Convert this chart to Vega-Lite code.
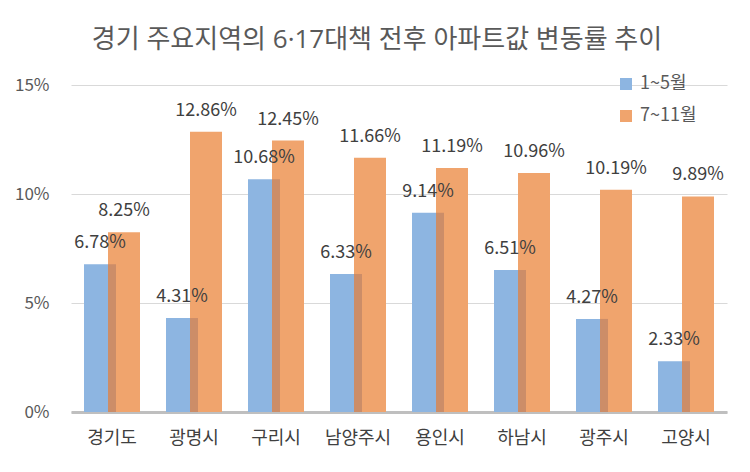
{
  "$schema": "https://vega.github.io/schema/vega-lite/v6.json",
  "width": 656,
  "height": 327,
  "autosize": {"type": "none"},
  "padding": {"left": 71, "top": 85, "right": 23, "bottom": 60},
  "background": "white",
  "config": {
    "font": "Noto Sans CJK KR",
    "view": {"stroke": null}
  },
  "title": {
    "text": "경기 주요지역의 6·17대책 전후 아파트값 변동률 추이",
    "font": "Open Sans, Noto Sans CJK KR",
    "fontSize": 26,
    "fontWeight": "normal",
    "color": "#595959",
    "anchor": "middle",
    "offset": 22,
    "dx": -22
  },
  "data": {
    "values": [
      {"region": "경기도", "period": "1~5월", "value": 0.0678},
      {"region": "경기도", "period": "7~11월", "value": 0.0825},
      {"region": "광명시", "period": "1~5월", "value": 0.0431},
      {"region": "광명시", "period": "7~11월", "value": 0.1286},
      {"region": "구리시", "period": "1~5월", "value": 0.1068},
      {"region": "구리시", "period": "7~11월", "value": 0.1245},
      {"region": "남양주시", "period": "1~5월", "value": 0.0633},
      {"region": "남양주시", "period": "7~11월", "value": 0.1166},
      {"region": "용인시", "period": "1~5월", "value": 0.0914},
      {"region": "용인시", "period": "7~11월", "value": 0.1119},
      {"region": "하남시", "period": "1~5월", "value": 0.0651},
      {"region": "하남시", "period": "7~11월", "value": 0.1096},
      {"region": "광주시", "period": "1~5월", "value": 0.0427},
      {"region": "광주시", "period": "7~11월", "value": 0.1019},
      {"region": "고양시", "period": "1~5월", "value": 0.0233},
      {"region": "고양시", "period": "7~11월", "value": 0.0989}
    ]
  },
  "encoding": {
    "x": {
      "field": "region",
      "type": "nominal",
      "sort": null,
      "scale": {"paddingInner": 0, "paddingOuter": 0},
      "axis": {
        "title": null,
        "labelAngle": 0,
        "labelFontSize": 18,
        "labelColor": "#404040",
        "labelPadding": 17,
        "ticks": false,
        "domainColor": "#BFBFBF",
        "domainWidth": 3
      }
    },
    "y": {
      "field": "value",
      "type": "quantitative",
      "scale": {"domain": [0, 0.15], "nice": false},
      "axis": {
        "title": null,
        "values": [0, 0.05, 0.1, 0.15],
        "format": ".0%",
        "labelFontSize": 17,
        "labelColor": "#595959",
        "labelPadding": 22,
        "ticks": false,
        "domain": false,
        "gridColor": "#D9D9D9",
        "gridWidth": 1
      }
    }
  },
  "layer": [
    {
      "transform": [{"filter": "datum.period === '1~5월'"}],
      "mark": {"type": "bar", "size": 32, "xOffset": -12},
      "encoding": {
        "color": {
          "field": "period",
          "type": "nominal",
          "scale": {"domain": ["1~5월", "7~11월"], "range": ["#8DB5E1", "#F0A46D"]},
          "legend": {
            "title": null,
            "orient": "none",
            "legendX": 546,
            "legendY": -10,
            "symbolType": "square",
            "symbolSize": 144,
            "symbolStrokeWidth": 0,
            "labelFontSize": 18,
            "labelColor": "#595959",
            "labelOffset": 5,
            "rowPadding": 14
          }
        }
      }
    },
    {
      "transform": [{"filter": "datum.period === '7~11월'"}],
      "mark": {"type": "bar", "size": 32, "xOffset": 12},
      "encoding": {
        "color": {"field": "period", "type": "nominal"}
      }
    },
    {
      "transform": [{"filter": "datum.period === '1~5월'"}],
      "mark": {"type": "bar", "size": 8, "xOffset": 0, "color": "#CC8D68"}
    },
    {
      "transform": [{"filter": "datum.period === '1~5월'"}],
      "mark": {"type": "text", "xOffset": -12, "dy": -16, "baseline": "alphabetic", "fontSize": 18, "color": "#404040"},
      "encoding": {"text": {"field": "value", "type": "quantitative", "format": ".2%"}}
    },
    {
      "transform": [{"filter": "datum.period === '7~11월'"}],
      "mark": {"type": "text", "xOffset": 12, "dy": -16, "baseline": "alphabetic", "fontSize": 18, "color": "#404040"},
      "encoding": {"text": {"field": "value", "type": "quantitative", "format": ".2%"}}
    }
  ]
}
